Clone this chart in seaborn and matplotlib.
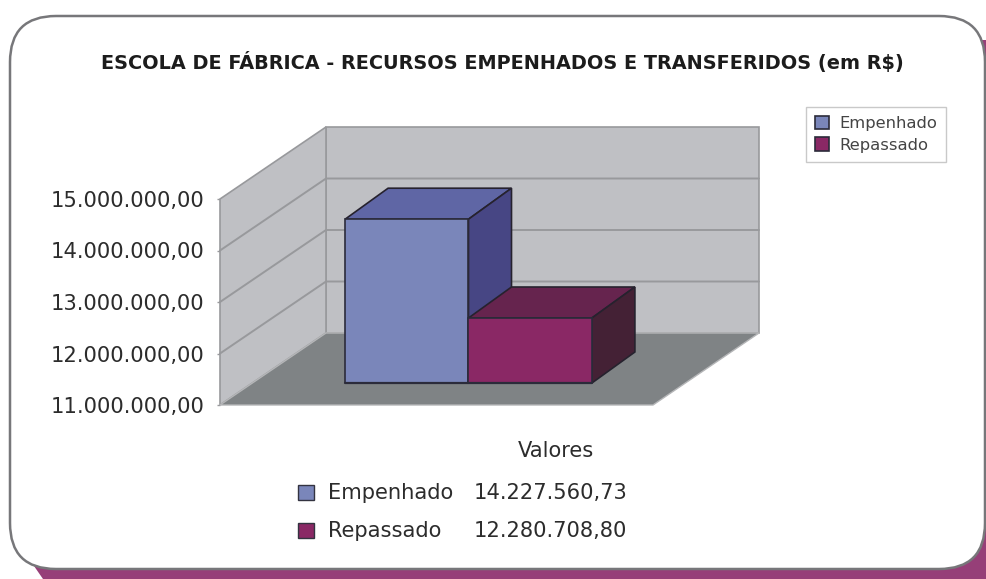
import matplotlib
matplotlib.use("Agg")
import matplotlib.pyplot as plt
from matplotlib.patches import FancyBboxPatch, Polygon, Rectangle
import pandas as pd
import seaborn as sns

# ---- data
title = "ESCOLA DE FÁBRICA - RECURSOS EMPENHADOS E TRANSFERIDOS (em R$)"
series = ["Empenhado", "Repassado"]
values = [14227560.73, 12280708.80]
category = ["Valores", "Valores"]
y_ticks = [11000000, 12000000, 13000000, 14000000, 15000000]

front_colors = ["#7a86ba", "#8a2865"]
top_colors = ["#5f66a5", "#66244e"]
side_colors = ["#474684", "#442135"]

W, H = 987, 579
FONT = "DejaVu Sans"


def br(v, dec=2):
    return f"{v:,.{dec}f}".replace(",", "#").replace(".", ",").replace("#", ".")


def rect(l, t, r, b):
    return [l / W, 1 - b / H, (r - l) / W, (b - t) / H]


sns.set_theme(style="white")
plt.rcParams["font.family"] = [FONT]
fig = plt.figure(figsize=(W / 100, H / 100), dpi=100, facecolor="white")

# ---- card background (pixel coordinates)
bg = fig.add_axes([0, 0, 1, 1], zorder=0)
bg.set_xlim(0, W)
bg.set_ylim(H, 0)
bg.axis("off")
bg.add_patch(Polygon([(34, 566), (43, 579), (W, 579), (W, 40), (980, 40)],
                     closed=True, fc="#963f78", ec="none"))
bg.add_patch(FancyBboxPatch((60, 66), 875, 453,
                            boxstyle="round,pad=50,rounding_size=46",
                            fc="white", ec="#77777a", lw=1.8))

# ---- walls: front plane of the 3D box
DX_FRAC, DY_VAL = 106 / 433, 72 / 206 * 4e6
wall = fig.add_axes(rect(220, 199, 653, 405), zorder=1)
wall.set_xlim(0, 1)
wall.set_ylim(y_ticks[0], y_ticks[-1])
wall.patch.set_visible(False)
sns.despine(ax=wall, left=True, bottom=True)
wall.set_xticks([])
wall.set_yticks(y_ticks)
wall.set_yticklabels([br(t) for t in y_ticks], fontsize=15.1, color="#2c2c2c")
wall.tick_params(axis="y", length=2, width=1, color="#99999c", pad=9, left=True)

lo, hi = y_ticks[0], y_ticks[-1]
wall_c, edge_c = "#bfc0c4", "#98999c"
wall.add_patch(Polygon([(DX_FRAC, lo + DY_VAL), (1 + DX_FRAC, lo + DY_VAL),
                        (1 + DX_FRAC, hi + DY_VAL), (DX_FRAC, hi + DY_VAL)],
                       closed=True, fc=wall_c, ec=edge_c, lw=1.2, clip_on=False, zorder=1))
wall.add_patch(Polygon([(0, lo), (DX_FRAC, lo + DY_VAL), (DX_FRAC, hi + DY_VAL), (0, hi)],
                       closed=True, fc=wall_c, ec=edge_c, lw=1.2, clip_on=False, zorder=1))
wall.add_patch(Polygon([(0, lo), (1, lo), (1 + DX_FRAC, lo + DY_VAL), (DX_FRAC, lo + DY_VAL)],
                       closed=True, fc="#7f8385", ec="#b5b6b8", lw=1, clip_on=False, zorder=2))
for t in y_ticks[1:-1]:
    wall.plot([0, DX_FRAC, 1 + DX_FRAC], [t, t + DY_VAL, t + DY_VAL],
              color=edge_c, lw=1.4, clip_on=False, zorder=1.5)

# ---- bars: plane 30% of the way into the box
bars_ax = fig.add_axes(rect(252, 180, 685, 383), zorder=2)
df = pd.DataFrame({"Categoria": category, "Serie": series, "Valor": values})
sns.barplot(data=df, x="Categoria", y="Valor", hue="Serie", hue_order=series,
            palette=front_colors, saturation=1, width=0.57, gap=0,
            edgecolor="#2b2b3a", linewidth=1.2, ax=bars_ax)
bars_ax.set_xlim(-0.5, 0.5)
bars_ax.set_ylim(y_ticks[0], y_ticks[-1])
bars_ax.axis("off")

dx, dy = 43 / 433, 31 / 203 * 4e6
edge = "#26222e"
for bar, top_c, side_c in zip(bars_ax.patches[:2], top_colors, side_colors):
    bar.set_zorder(4)
    x0, x1 = bar.get_x(), bar.get_x() + bar.get_width()
    h = bar.get_height()
    bars_ax.add_patch(Polygon([(x0, h), (x1, h), (x1 + dx, h + dy), (x0 + dx, h + dy)],
                              closed=True, fc=top_c, ec=edge, lw=1.2, clip_on=False, zorder=3))
    bars_ax.add_patch(Polygon([(x1, lo), (x1 + dx, lo + dy), (x1 + dx, h + dy), (x1, h)],
                              closed=True, fc=side_c, ec=edge, lw=1.2, clip_on=False, zorder=3))
    bars_ax.plot([x0, x1], [lo, lo], color="#2b2b3a", lw=1.6, clip_on=False, zorder=5)

# ---- legend
sns.move_legend(bars_ax, "upper left", bbox_to_anchor=(806 / W, 1 - 107 / H),
                bbox_transform=fig.transFigure, title=None, frameon=True,
                fancybox=False, edgecolor="#c9c9c9", framealpha=1, fontsize=11.8,
                borderaxespad=0, borderpad=0.55, labelspacing=0.38,
                handlelength=0.85, handleheight=0.85, handletextpad=0.65,
                labelcolor="#444444")

# ---- title and data table
fig.text(502 / W, 1 - 63 / H, title, ha="center", va="center", fontsize=13.9,
         fontweight="bold", color="#1c1c1c")
fig.text(556 / W, 1 - 451 / H, category[0], ha="center", va="center",
         fontsize=15.1, color="#2c2c2c")
for name, val, col, yp in zip(series, values, front_colors, [493, 531]):
    bg.add_patch(Rectangle((298, yp - 8), 16, 15, fc=col, ec="#333340", lw=1))
    fig.text(328 / W, 1 - yp / H, name, ha="left", va="center", fontsize=15.1, color="#2c2c2c")
    fig.text(627 / W, 1 - yp / H, br(val), ha="right", va="center", fontsize=15.1, color="#2c2c2c")

fig.savefig("out.png", dpi=100, facecolor="white")
